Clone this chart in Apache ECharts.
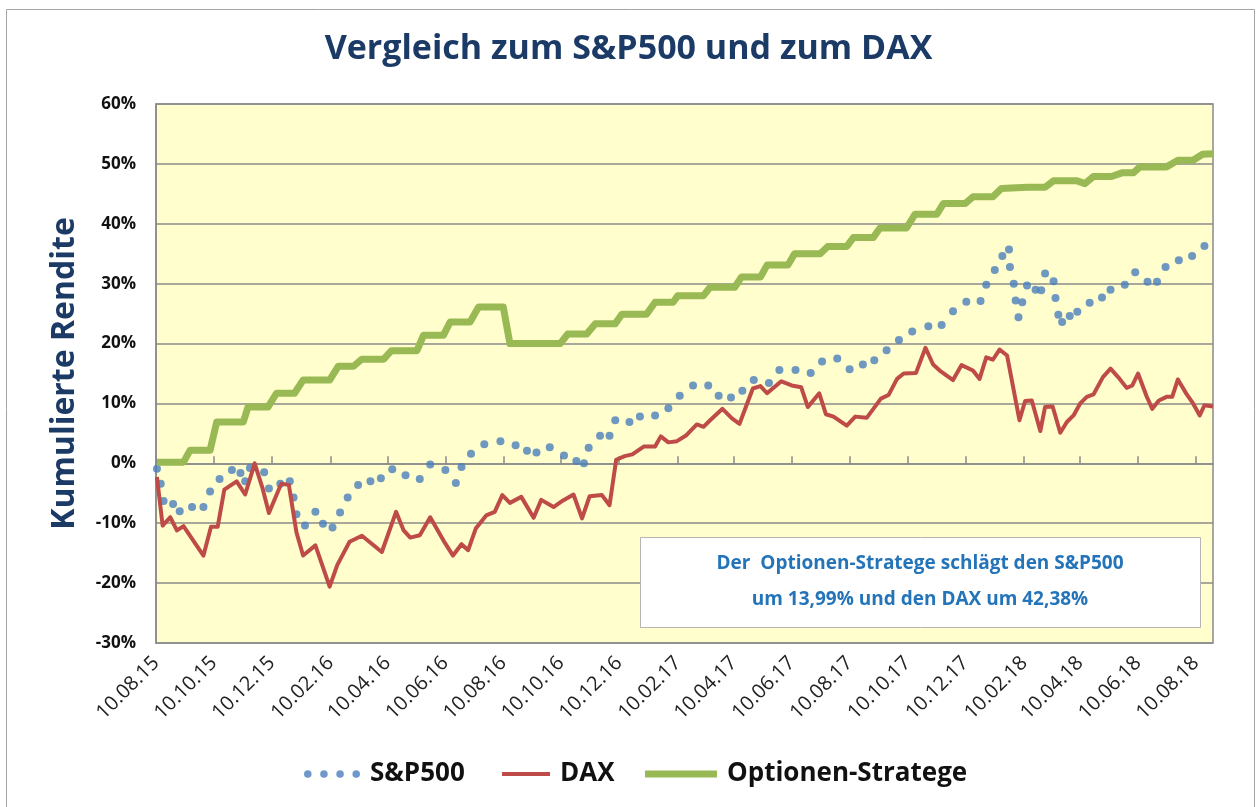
<!DOCTYPE html>
<html>
<head>
<meta charset="utf-8">
<script src="https://cdn.jsdelivr.net/npm/echarts@6/dist/echarts.min.js"></script>
<style>
  html, body { margin: 0; padding: 0; background: #fff; }
  #chart { width: 1257px; height: 807px; }
</style>
</head>
<body>
<div id="chart"></div>
<script>
// x values are days since 10.08.15
const tickLabels = ['10.08.15', '10.10.15', '10.12.15', '10.02.16', '10.04.16', '10.06.16', '10.08.16',
    '10.10.16', '10.12.16', '10.02.17', '10.04.17', '10.06.17', '10.08.17', '10.10.17', '10.12.17',
    '10.02.18', '10.04.18', '10.06.18', '10.08.18'];

const spDays = [1, 5, 8, 18, 25, 38, 50, 57, 67, 80, 89, 94, 99, 114, 119, 131, 141, 145, 148, 157,
    168, 176, 186, 194, 202, 213, 226, 237, 249, 263, 278, 289, 305, 316, 322, 332, 346, 363, 379, 391,
    401, 415, 430, 443, 451, 456, 468, 478, 484, 499, 510, 526, 540, 552, 566, 582, 593, 606, 618, 630,
    646, 657, 674, 690, 702, 718, 731, 745, 757, 770, 783, 797, 814, 828, 840, 854, 869, 875, 884, 892,
    899, 900, 904, 906, 909, 913, 918, 927, 933, 937, 946, 948, 951, 955, 963, 971, 984, 997, 1006, 1021,
    1032, 1045, 1055, 1064, 1078, 1092, 1105];
const spValues = [-0.9, -3.4, -6.3, -6.8, -8.0, -7.3, -7.3, -4.7, -2.6, -1.1, -1.6, -3.0, -0.8, -1.5, -4.2, -3.4, -3.0, -5.7, -8.5, -10.4,
    -8.1, -10.1, -10.7, -8.2, -5.7, -3.6, -3.0, -2.5, -1.0, -2.0, -2.6, -0.2, -1.1, -3.3, -0.6, 1.6, 3.2, 3.7, 3.0, 2.1,
    1.8, 2.7, 1.3, 0.4, 0.0, 2.6, 4.6, 4.6, 7.2, 6.9, 7.8, 8.0, 9.2, 11.3, 13.0, 13.0, 11.3, 11.0, 12.1, 13.9,
    13.4, 15.6, 15.6, 15.1, 17.0, 17.5, 15.7, 16.5, 17.2, 18.9, 20.6, 22.0, 22.9, 23.1, 25.4, 27.0, 27.1, 29.8, 32.3, 34.6,
    35.7, 32.8, 30.0, 27.2, 24.4, 26.9, 29.7, 29.0, 28.9, 31.7, 30.4, 27.6, 24.8, 23.6, 24.6, 25.3, 26.8, 27.7, 29.0, 29.8,
    31.9, 30.3, 30.3, 32.8, 33.9, 34.6, 36.3];

const daxDays = [1, 7, 15, 22, 29, 50, 58, 65, 72, 85, 94, 104, 112, 119, 132, 140, 148, 155, 168, 183,
    191, 204, 217, 238, 253, 261, 268, 278, 289, 303, 313, 322, 329, 337, 348, 357, 365, 373, 385, 398,
    406, 419, 429, 440, 449, 457, 470, 478, 485, 494, 502, 514, 526, 532, 540, 549, 559, 570, 577, 584,
    597, 607, 615, 629, 637, 644, 659, 670, 680, 687, 699, 706, 714, 728, 737, 749, 764, 772, 781, 788,
    801, 811, 819, 826, 840, 849, 861, 868, 875, 882, 889, 897, 910, 916, 923, 932, 937, 945, 953, 960,
    967, 974, 981, 988, 998, 1006, 1014, 1023, 1029, 1035, 1044, 1050, 1057, 1065, 1071, 1077, 1086, 1093, 1100, 1105,
    1114];
const daxValues = [-2.3, -10.4, -9.0, -11.2, -10.5, -15.4, -10.6, -10.6, -4.4, -3.0, -5.2, 0.0, -4.0, -8.3, -3.4, -3.6, -11.5, -15.4, -13.7, -20.6,
    -17.0, -13.1, -12.1, -14.8, -8.1, -11.2, -12.4, -12.0, -9.0, -12.9, -15.4, -13.5, -14.5, -10.9, -8.7, -8.1, -5.3, -6.6, -5.6, -9.1,
    -6.1, -7.3, -6.2, -5.2, -9.2, -5.5, -5.3, -7.0, 0.6, 1.2, 1.5, 2.8, 2.8, 4.5, 3.5, 3.7, 4.7, 6.5, 6.1, 7.2,
    9.1, 7.5, 6.6, 12.5, 12.9, 11.7, 13.7, 13.0, 12.7, 9.4, 11.7, 8.2, 7.8, 6.3, 7.8, 7.6, 10.8, 11.4, 14.1, 15.0,
    15.1, 19.3, 16.5, 15.5, 13.9, 16.4, 15.5, 14.1, 17.7, 17.3, 19.0, 18.0, 7.2, 10.4, 10.5, 5.4, 9.4, 9.5, 5.1, 6.9,
    8.0, 10.0, 11.1, 11.5, 14.4, 15.8, 14.4, 12.6, 13.0, 15.0, 11.2, 9.1, 10.5, 11.1, 11.1, 14.0, 11.6, 10.0, 8.0, 9.7,
    9.5];

const optDays = [1, 29, 36, 57, 64, 92, 97, 118, 127, 146, 155, 183, 192, 208, 217, 240, 248, 275, 282, 303,
    310, 331, 340, 366, 373, 426, 434, 454, 463, 484, 491, 517, 526, 545, 550, 577, 584, 610, 617, 637,
    644, 666, 673, 700, 708, 728, 735, 756, 763, 791, 800, 823, 830, 853, 861, 882, 891, 907, 918, 937,
    946, 970, 979, 988, 1007, 1018, 1030, 1037, 1065, 1077, 1093, 1103, 1114];
const optValues = [0.2, 0.2, 2.2, 2.2, 6.9, 6.9, 9.4, 9.4, 11.7, 11.7, 13.9, 13.9, 16.2, 16.2, 17.4, 17.4, 18.8, 18.8, 21.4, 21.4,
    23.6, 23.6, 26.1, 26.1, 20.0, 20.0, 21.6, 21.6, 23.3, 23.3, 24.9, 24.9, 26.9, 26.9, 28.0, 28.0, 29.4, 29.4, 31.1, 31.1,
    33.1, 33.1, 35.0, 35.0, 36.2, 36.2, 37.7, 37.7, 39.3, 39.3, 41.6, 41.6, 43.4, 43.4, 44.5, 44.5, 45.9, 46.0, 46.1, 46.1,
    47.2, 47.2, 46.7, 47.9, 47.9, 48.5, 48.5, 49.5, 49.5, 50.6, 50.6, 51.6, 51.7];

const seriesNames = ['S&P500', 'DAX', 'Optionen-Stratege'];
const boxLines = ['Der  Optionen-Stratege schlägt den S&P500', 'um 13,99% und den DAX um 42,38%'];

// date label -> day offset
const start = Date.UTC(2015, 7, 10);
function toDay(s) {
    let p = s.split('.');
    return Math.round((Date.UTC(2000 + Number(p[2]), Number(p[1]) - 1, Number(p[0])) - start) / 86400000);
}
let tickDays = tickLabels.map(toDay);
let labelOf = {};
tickDays.forEach(function (d, i) { labelOf[d] = tickLabels[i]; });

function zip(xs, ys) {
    return xs.map(function (x, i) { return [x, ys[i]]; });
}

const font = 'Open Sans';
const gridColor = '#8a8a8a';
const navy = '#1B3A66';
// four dots for the S&P legend icon
const dotsIcon = 'path://M0,4a4,4 0 1,0 8,0a4,4 0 1,0 -8,0M17,4a4,4 0 1,0 8,0a4,4 0 1,0 -8,0' +
    'M34,4a4,4 0 1,0 8,0a4,4 0 1,0 -8,0M51,4a4,4 0 1,0 8,0a4,4 0 1,0 -8,0';
const legendText = { fontFamily: font, fontSize: 26, fontWeight: 'bold', color: '#111', padding: [0, 0, 0, 5] };

let myChart = echarts.init(document.getElementById('chart'));

myChart.setOption({
    animation: false,
    backgroundColor: '#fff',
    title: {
        text: 'Vergleich zum S&P500 und zum DAX',
        left: 'center',
        top: 27,
        textStyle: { fontFamily: font, fontSize: 34, fontWeight: 'bold', color: navy }
    },
    legend: [
        {
            data: [{ name: seriesNames[0], icon: dotsIcon }],
            left: 299, top: 756,
            itemWidth: 56, itemHeight: 8,
            textStyle: legendText
        },
        {
            data: [{ name: seriesNames[1], icon: 'rect' }],
            left: 497, top: 756,
            itemWidth: 48, itemHeight: 4,
            textStyle: legendText
        },
        {
            data: [{ name: seriesNames[2], icon: 'rect' }],
            left: 640, top: 756,
            itemWidth: 72, itemHeight: 7,
            textStyle: legendText
        }
    ],
    grid: {
        left: 156, right: 44, top: 104, bottom: 164,
        show: true,
        backgroundColor: '#FFFECC',
        borderColor: gridColor,
        borderWidth: 1.5
    },
    xAxis: [
        { // axis line at 0 %
            type: 'value', min: 0, max: 1114,
            axisLine: { onZero: true, lineStyle: { color: gridColor, width: 1.5 } },
            axisTick: { show: true, inside: true, length: 7, customValues: tickDays, lineStyle: { color: gridColor, width: 1.5 } },
            axisLabel: { show: false },
            splitLine: { show: false }
        },
        { // date labels below the plot
            type: 'value', min: 0, max: 1114, position: 'bottom',
            axisLine: { show: false, onZero: false },
            axisTick: { show: false },
            splitLine: { show: false },
            axisLabel: {
                customValues: tickDays,
                rotate: 45,
                margin: 17,
                fontFamily: font, fontSize: 20, color: '#222',
                formatter: function (v) { return labelOf[v] || ''; }
            }
        }
    ],
    yAxis: {
        type: 'value', min: -30, max: 60, interval: 10,
        name: 'Kumulierte Rendite',
        nameLocation: 'middle',
        nameGap: 75,
        nameTextStyle: { fontFamily: font, fontSize: 32, fontWeight: 'bold', color: navy },
        axisLine: { show: true, lineStyle: { color: gridColor, width: 1.5 } },
        axisTick: { show: false },
        axisLabel: {
            margin: 20,
            fontFamily: font, fontSize: 17, fontWeight: 'bold', color: '#111',
            formatter: '{value}%'
        },
        splitLine: { lineStyle: { color: gridColor, width: 1.5 } }
    },
    graphic: [
        { // outer frame
            type: 'rect', silent: true, z: -10,
            shape: { x: 6.5, y: 9.5, width: 1248, height: 800 },
            style: { fill: 'none', stroke: '#a5a5a5', lineWidth: 1 }
        },
        {
            type: 'rect', z: 100,
            shape: { x: 640.5, y: 537.5, width: 560, height: 90 },
            style: { fill: '#fff', stroke: '#b5b5b5', lineWidth: 1 }
        },
        {
            type: 'text', z: 101,
            x: 920, y: 564,
            style: {
                text: boxLines[0], align: 'center', verticalAlign: 'middle',
                font: 'bold 19px "Open Sans"', fill: '#2474BA'
            }
        },
        {
            type: 'text', z: 101,
            x: 920, y: 600,
            style: {
                text: boxLines[1], align: 'center', verticalAlign: 'middle',
                font: 'bold 19px "Open Sans"', fill: '#2474BA'
            }
        }
    ],
    series: [
        {
            name: seriesNames[0],
            type: 'scatter',
            symbol: 'circle',
            symbolSize: 8,
            itemStyle: { color: '#4A7EBB' },
            data: zip(spDays, spValues)
        },
        {
            name: seriesNames[1],
            type: 'line',
            showSymbol: false,
            itemStyle: { color: '#BE4B48' },
            lineStyle: { width: 4, color: '#BE4B48', join: 'round' },
            data: zip(daxDays, daxValues)
        },
        {
            name: seriesNames[2],
            type: 'line',
            showSymbol: false,
            itemStyle: { color: '#98B954' },
            lineStyle: { width: 7, color: '#98B954', join: 'round' },
            data: zip(optDays, optValues)
        }
    ]
});
</script>
</body>
</html>
